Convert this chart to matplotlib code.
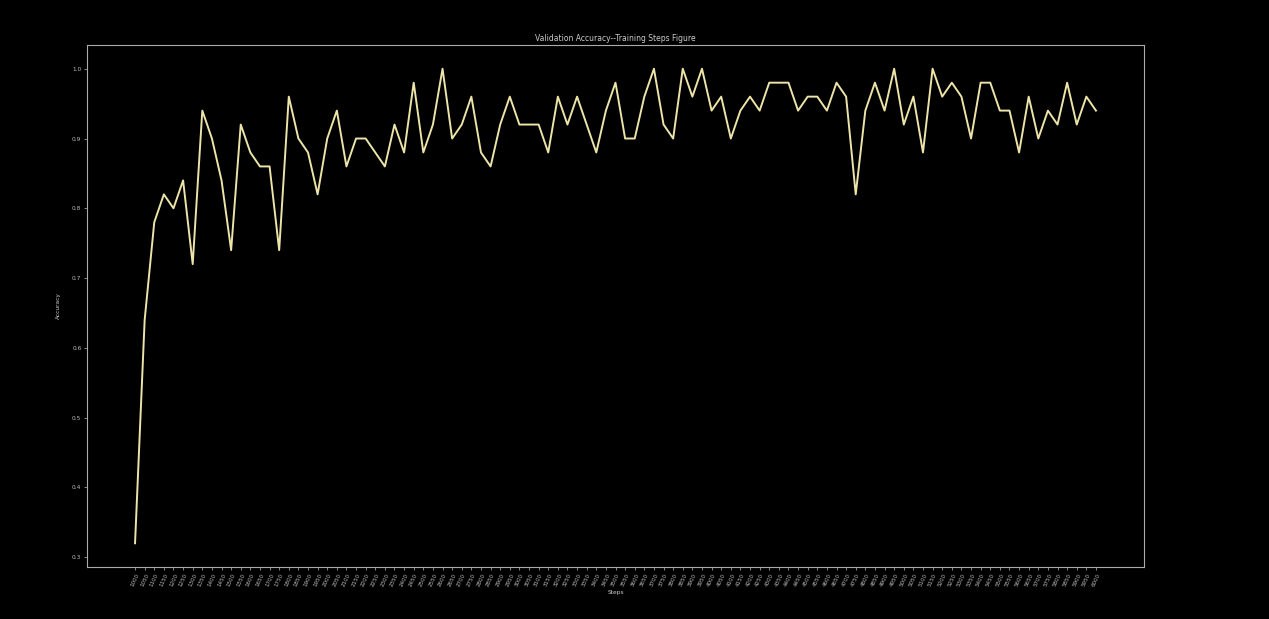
import matplotlib
matplotlib.use("Agg")
import matplotlib.pyplot as plt

accuracy = [
    0.32, 0.64, 0.78, 0.82, 0.80, 0.84, 0.72, 0.94, 0.90, 0.84,
    0.74, 0.92, 0.88, 0.86, 0.86, 0.74, 0.96, 0.90, 0.88, 0.82,
    0.90, 0.94, 0.86, 0.90, 0.90, 0.88, 0.86, 0.92, 0.88, 0.98,
    0.88, 0.92, 1.00, 0.90, 0.92, 0.96, 0.88, 0.86, 0.92, 0.96,
    0.92, 0.92, 0.92, 0.88, 0.96, 0.92, 0.96, 0.92, 0.88, 0.94,
    0.98, 0.90, 0.90, 0.96, 1.00, 0.92, 0.90, 1.00, 0.96, 1.00,
    0.94, 0.96, 0.90, 0.94, 0.96, 0.94, 0.98, 0.98, 0.98, 0.94,
    0.96, 0.96, 0.94, 0.98, 0.96, 0.82, 0.94, 0.98, 0.94, 1.00,
    0.92, 0.96, 0.88, 1.00, 0.96, 0.98, 0.96, 0.90, 0.98, 0.98,
    0.94, 0.94, 0.88, 0.96, 0.90, 0.94, 0.92, 0.98, 0.92, 0.96,
    0.94,
]
steps = [str(1000 + 50 * i) for i in range(len(accuracy))]
y_ticks = [0.3, 0.4, 0.5, 0.6, 0.7, 0.8, 0.9, 1.0]

W, H = 1269, 619
fig = plt.figure(figsize=(W / 100, H / 100), dpi=100, facecolor="black")
ax = fig.add_axes([87 / W, 1 - 567 / H, (1144 - 87) / W, (567 - 45) / H])
ax.set_facecolor("black")

x = list(range(len(accuracy)))
ax.plot(x, accuracy, color="#ece4a8", linewidth=1.4)

ax.set_xticks(x)
ax.set_xticklabels(steps, rotation=65, fontsize=4, color="#c8c8c8")
ax.set_yticks(y_ticks)
ax.set_yticklabels([f"{v:.1f}" for v in y_ticks], fontsize=4.2, color="#c8c8c8")
ax.tick_params(axis="both", colors="#bbbbbb", length=2, width=0.5, pad=2)

for s in ax.spines.values():
    s.set_color("#aaaaaa")
    s.set_linewidth(0.8)

ax.set_title("Validation Accuracy--Training Steps Figure", fontsize=5.5, color="#cccccc", pad=3)
ax.set_xlabel("Steps", fontsize=4.2, color="#cccccc", labelpad=2)
ax.set_ylabel("Accuracy", fontsize=4.2, color="#cccccc", labelpad=8)

fig.savefig("out.png", dpi=100, facecolor="black")
